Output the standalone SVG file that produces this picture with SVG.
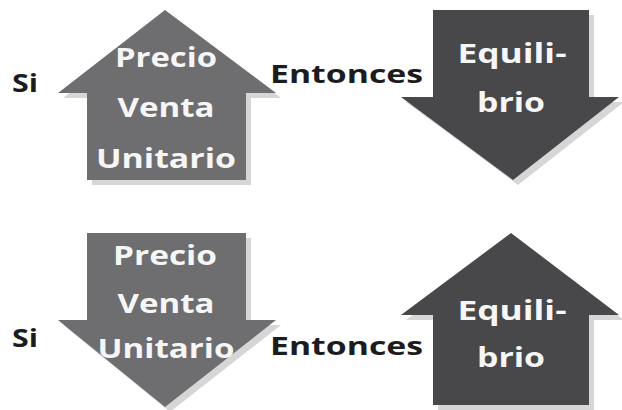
<svg xmlns="http://www.w3.org/2000/svg" width="622" height="410" viewBox="0 0 622 410">
<style>
.lt{fill:#6e6e70}
.dk{fill:#48484a}
.sh{fill:#d6d6d6}
.w{font-family:"Open Sans","DejaVu Sans",sans-serif;font-weight:700;font-size:26px;fill:#f6f6f6;text-anchor:middle}
.b{font-family:"Open Sans","DejaVu Sans",sans-serif;font-weight:700;font-size:25px;fill:#1c1c1e}
</style>
<rect width="622" height="410" fill="#ffffff"/>
<g id="arrow-precio-up">
<polygon class="sh" points="170,15 281,98 251,98 251,185 92,185 92,98 63,98"/>
<polygon class="lt" points="165,10 276,93 246,93 246,180 87,180 87,93 58,93"/>
<text class="w" x="166" y="67" textLength="102" lengthAdjust="spacingAndGlyphs">Precio</text>
<text class="w" x="166" y="117" textLength="97" lengthAdjust="spacingAndGlyphs">Venta</text>
<text class="w" x="166" y="168" textLength="140" lengthAdjust="spacingAndGlyphs">Unitario</text>
</g>
<g id="arrow-equilibrio-down">
<polygon class="sh" points="438,15 594,15 594,102 624,102 518,185 406,102 438,102"/>
<polygon class="dk" points="433,10 589,10 589,97 619,97 513,180 401,97 433,97"/>
<text class="w" x="512" y="63" textLength="109" lengthAdjust="spacingAndGlyphs">Equili-</text>
<text class="w" x="511" y="112" textLength="68" lengthAdjust="spacingAndGlyphs">brio</text>
</g>
<g id="arrow-precio-down">
<polygon class="sh" points="92,238 251,238 251,325 281,325 170,412 63,325 92,325"/>
<polygon class="lt" points="87,233 246,233 246,320 276,320 165,407 58,320 87,320"/>
<text class="w" x="165" y="265" textLength="104" lengthAdjust="spacingAndGlyphs">Precio</text>
<text class="w" x="166" y="313" textLength="97" lengthAdjust="spacingAndGlyphs">Venta</text>
<text class="w" x="166" y="358" textLength="137" lengthAdjust="spacingAndGlyphs">Unitario</text>
</g>
<g id="arrow-equilibrio-up">
<polygon class="sh" points="516,238 624,320 594,320 594,410 438,410 438,320 406,320"/>
<polygon class="dk" points="511,233 619,315 589,315 589,405 433,405 433,315 401,315"/>
<text class="w" x="512" y="320" textLength="109" lengthAdjust="spacingAndGlyphs">Equili-</text>
<text class="w" x="511" y="367" textLength="68" lengthAdjust="spacingAndGlyphs">brio</text>
</g>
<g id="labels">
<text class="b" x="12" y="92" textLength="26" lengthAdjust="spacingAndGlyphs">Si</text>
<text class="b" x="270" y="83" textLength="153" lengthAdjust="spacingAndGlyphs">Entonces</text>
<text class="b" x="12" y="347" textLength="26" lengthAdjust="spacingAndGlyphs">Si</text>
<text class="b" x="270" y="355" textLength="153" lengthAdjust="spacingAndGlyphs">Entonces</text>
</g>
</svg>
